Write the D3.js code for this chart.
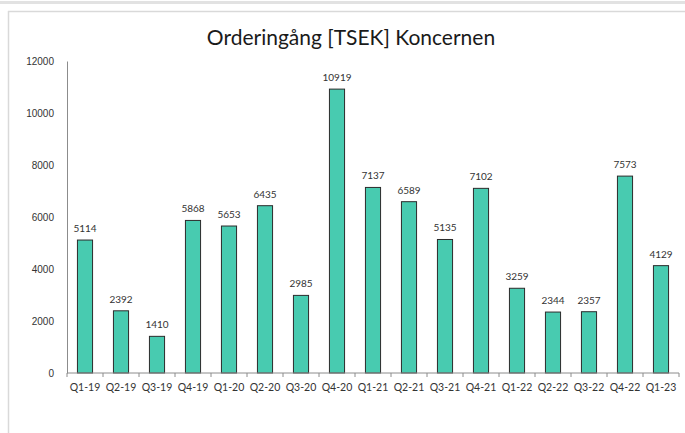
<!DOCTYPE html>
<html>
<head>
<meta charset="utf-8">
<script src="https://cdn.jsdelivr.net/npm/d3@7"></script>
<style>
  body { margin: 0; background: #fff; }
  svg { display: block; font-family: Lato, "Open Sans", sans-serif; }
</style>
</head>
<body>
<div id="chart"></div>
<script>
const quarters = ['Q1-19','Q2-19','Q3-19','Q4-19','Q1-20','Q2-20','Q3-20','Q4-20','Q1-21',
    'Q2-21','Q3-21','Q4-21','Q1-22','Q2-22','Q3-22','Q4-22','Q1-23'];
const orders = [5114,2392,1410,5868,5653,6435,2985,10919,7137,6589,5135,7102,3259,2344,2357,7573,4129];
const yTicks = [0,2000,4000,6000,8000,10000,12000];
const title = 'Orderingång [TSEK] Koncernen';

const W = 685, H = 433;
const margin = { left: 67, right: 5, top: 61, bottom: 60 };
const width = 679 - margin.left;
const height = 373 - margin.top;

const svg = d3.select('#chart').append('svg')
    .attr('width', W)
    .attr('height', H);

// frame lines
svg.append('rect').attr('x', 0).attr('y', 1).attr('width', W).attr('height', 3).attr('fill', '#e2e2e2');
svg.append('line').attr('x1', 8).attr('x2', W).attr('y1', 11.5).attr('y2', 11.5)
    .attr('stroke', '#d9d9d9').attr('stroke-width', 1.5);
svg.append('line').attr('x1', 8.5).attr('x2', 8.5).attr('y1', 11).attr('y2', H)
    .attr('stroke', '#d9d9d9').attr('stroke-width', 1.5);

svg.append('text')
    .attr('x', 351).attr('y', 45)
    .attr('text-anchor', 'middle')
    .attr('font-size', 21)
    .attr('fill', '#1a1a1a')
    .text(title);

const g = svg.append('g')
    .attr('transform', 'translate(' + margin.left + ',' + margin.top + ')');

const x = d3.scaleBand()
    .domain(quarters)
    .range([0, width])
    .paddingInner(0.58)
    .paddingOuter(0.29);

const y = d3.scaleLinear()
    .domain([0, 12000])
    .range([height, 0]);

// y axis: line + labels only
const yAxis = g.append('g')
    .call(d3.axisLeft(y).tickValues(yTicks).tickFormat(d3.format('d')).tickSize(0).tickPadding(13));
yAxis.select('.domain').attr('stroke', '#8c8c8c');
yAxis.selectAll('text').attr('font-size', 10).attr('fill', '#333');

// bars
g.selectAll('.bar')
    .data(orders)
    .enter()
    .append('rect')
    .attr('class', 'bar')
    .attr('x', (d, i) => x(quarters[i]))
    .attr('y', d => y(d))
    .attr('width', x.bandwidth())
    .attr('height', d => height - y(d))
    .attr('fill', '#48cbb0')
    .attr('stroke', '#2b2b2b')
    .attr('stroke-width', 1);

// value labels
g.selectAll('.lbl')
    .data(orders)
    .enter()
    .append('text')
    .attr('class', 'lbl')
    .attr('x', (d, i) => x(quarters[i]) + x.bandwidth() / 2)
    .attr('y', d => y(d) - 8)
    .attr('text-anchor', 'middle')
    .attr('font-size', 10)
    .attr('fill', '#333')
    .text(d => d);

// x axis with ticks at category boundaries
const step = x.step();
const xAxis = g.append('g')
    .attr('transform', 'translate(0,' + height + ')');
xAxis.append('line')
    .attr('x1', 0).attr('x2', width)
    .attr('stroke', '#8c8c8c');
xAxis.selectAll('.tk')
    .data(d3.range(quarters.length + 1))
    .enter()
    .append('line')
    .attr('x1', i => i * step).attr('x2', i => i * step)
    .attr('y1', 0).attr('y2', 4)
    .attr('stroke', '#8c8c8c');
xAxis.selectAll('.xl')
    .data(quarters)
    .enter()
    .append('text')
    .attr('x', d => x(d) + x.bandwidth() / 2)
    .attr('y', 18)
    .attr('text-anchor', 'middle')
    .attr('font-size', 10.5)
    .attr('fill', '#333')
    .text(d => d);
</script>
</body>
</html>
